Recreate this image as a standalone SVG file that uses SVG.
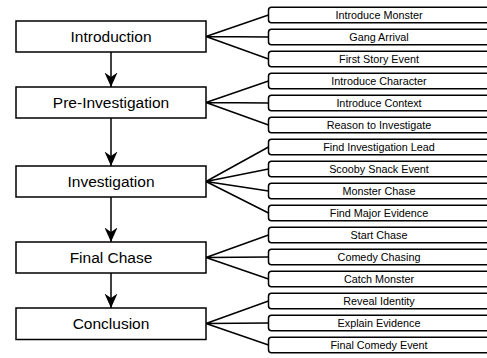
<svg xmlns="http://www.w3.org/2000/svg" width="487" height="358" viewBox="0 0 487 358">
<style>
.main rect{fill:#fff;stroke:#000;stroke-width:1.5}
.main text{font-family:"Liberation Sans",Arial,sans-serif;font-size:15.5px;fill:#000;text-anchor:middle}
.leaf rect{fill:#fff;stroke:#000;stroke-width:1.5}
.leaf text{font-family:"Liberation Sans",Arial,sans-serif;font-size:10.8px;fill:#000;text-anchor:middle}
#connectors line,#connectors path.fan{stroke:#000;stroke-width:1.5;fill:none}
</style>
<defs>
<marker id="arr" markerUnits="userSpaceOnUse" markerWidth="16" markerHeight="14" viewBox="0 0 16 14" refX="14.5" refY="6.5" orient="auto">
<path d="M0,0 L14.5,6.5 L0,13 L4.5,6.5 z" fill="#000"/>
</marker>
</defs>
<rect width="487" height="358" fill="#fff"/>
<g id="connectors">
<line x1="111" y1="52" x2="111" y2="87" marker-end="url(#arr)"/>
<line x1="111" y1="118" x2="111" y2="166" marker-end="url(#arr)"/>
<line x1="111" y1="197" x2="111" y2="242" marker-end="url(#arr)"/>
<line x1="111" y1="273" x2="111" y2="308" marker-end="url(#arr)"/>
<path class="fan" d="M206,36.5 L268.5,15 M206,36.5 L268.5,37 M206,36.5 L268.5,59"/>
<path class="fan" d="M206,102.5 L268.5,81 M206,102.5 L268.5,103 M206,102.5 L268.5,125"/>
<path class="fan" d="M206,181.5 L268.5,147 M206,181.5 L268.5,169 M206,181.5 L268.5,191 M206,181.5 L268.5,213"/>
<path class="fan" d="M206,257.5 L268.5,235 M206,257.5 L268.5,257 M206,257.5 L268.5,279"/>
<path class="fan" d="M206,323.5 L268.5,301 M206,323.5 L268.5,323 M206,323.5 L268.5,345"/>
</g>
<g id="introduction" class="main"><rect x="16" y="21" width="190" height="31"/><text x="111" y="42">Introduction</text></g>
<g id="pre-investigation" class="main"><rect x="16" y="87" width="190" height="31"/><text x="111" y="108">Pre-Investigation</text></g>
<g id="investigation" class="main"><rect x="16" y="166" width="190" height="31"/><text x="111" y="187">Investigation</text></g>
<g id="final-chase" class="main"><rect x="16" y="242" width="190" height="31"/><text x="111" y="263">Final Chase</text></g>
<g id="conclusion" class="main"><rect x="16" y="308" width="190" height="31.5"/><text x="111" y="329">Conclusion</text></g>
<g id="leaf-introduce-monster" class="leaf"><rect x="268.5" y="7.25" width="222" height="15.5" rx="3"/><text x="379" y="18.6">Introduce Monster</text></g>
<g id="leaf-gang-arrival" class="leaf"><rect x="268.5" y="29.25" width="222" height="15.5" rx="3"/><text x="379" y="40.6">Gang Arrival</text></g>
<g id="leaf-first-story-event" class="leaf"><rect x="268.5" y="51.25" width="222" height="15.5" rx="3"/><text x="379" y="62.6">First Story Event</text></g>
<g id="leaf-introduce-character" class="leaf"><rect x="268.5" y="73.25" width="222" height="15.5" rx="3"/><text x="379" y="84.6">Introduce Character</text></g>
<g id="leaf-introduce-context" class="leaf"><rect x="268.5" y="95.25" width="222" height="15.5" rx="3"/><text x="379" y="106.6">Introduce Context</text></g>
<g id="leaf-reason-to-investigate" class="leaf"><rect x="268.5" y="117.25" width="222" height="15.5" rx="3"/><text x="379" y="128.6">Reason to Investigate</text></g>
<g id="leaf-find-investigation-lead" class="leaf"><rect x="268.5" y="139.25" width="222" height="15.5" rx="3"/><text x="379" y="150.6">Find Investigation Lead</text></g>
<g id="leaf-scooby-snack-event" class="leaf"><rect x="268.5" y="161.25" width="222" height="15.5" rx="3"/><text x="379" y="172.6">Scooby Snack Event</text></g>
<g id="leaf-monster-chase" class="leaf"><rect x="268.5" y="183.25" width="222" height="15.5" rx="3"/><text x="379" y="194.6">Monster Chase</text></g>
<g id="leaf-find-major-evidence" class="leaf"><rect x="268.5" y="205.25" width="222" height="15.5" rx="3"/><text x="379" y="216.6">Find Major Evidence</text></g>
<g id="leaf-start-chase" class="leaf"><rect x="268.5" y="227.25" width="222" height="15.5" rx="3"/><text x="379" y="238.6">Start Chase</text></g>
<g id="leaf-comedy-chasing" class="leaf"><rect x="268.5" y="249.25" width="222" height="15.5" rx="3"/><text x="379" y="260.6">Comedy Chasing</text></g>
<g id="leaf-catch-monster" class="leaf"><rect x="268.5" y="271.25" width="222" height="15.5" rx="3"/><text x="379" y="282.6">Catch Monster</text></g>
<g id="leaf-reveal-identity" class="leaf"><rect x="268.5" y="293.25" width="222" height="15.5" rx="3"/><text x="379" y="304.6">Reveal Identity</text></g>
<g id="leaf-explain-evidence" class="leaf"><rect x="268.5" y="315.25" width="222" height="15.5" rx="3"/><text x="379" y="326.6">Explain Evidence</text></g>
<g id="leaf-final-comedy-event" class="leaf"><rect x="268.5" y="337.25" width="222" height="15.5" rx="3"/><text x="379" y="348.6">Final Comedy Event</text></g>
</svg>
